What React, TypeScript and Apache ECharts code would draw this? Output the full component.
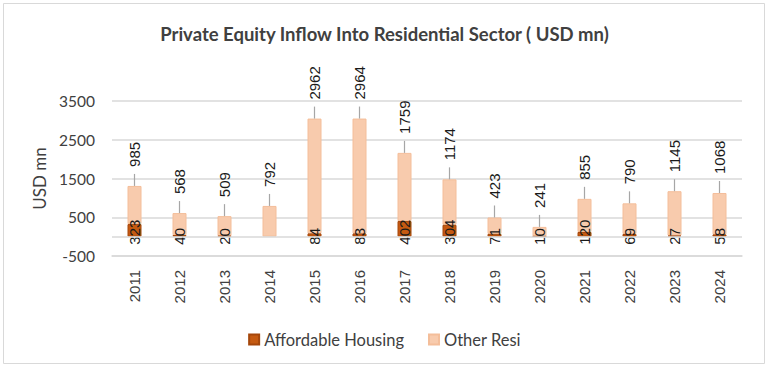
import React, { useEffect, useRef } from "react";
import * as echarts from "echarts";

const years = ["2011","2012","2013","2014","2015","2016","2017","2018","2019","2020","2021","2022","2023","2024"];
const affordable = [323, 40, 20, null, 84, 83, 402, 304, 71, 10, 120, 69, 27, 58];
const otherResi = [985, 568, 509, 792, 2962, 2964, 1759, 1174, 423, 241, 855, 790, 1145, 1068];
const yTicks = { min: -500, max: 3500, interval: 1000 };

const FONT = "Lato";

export default function App() {
  const ref = useRef<HTMLDivElement>(null);
  useEffect(() => {
    document.body.style.margin = "0";
    const chart = echarts.init(ref.current!, null, { renderer: "svg" });
    const totals = years.map((_, i) => (affordable[i] ?? 0) + otherResi[i]);
    chart.setOption({
      animation: false,
      backgroundColor: "#ffffff",
      title: {
        text: "Private Equity Inflow Into Residential Sector ( USD mn)",
        left: "center",
        top: 19,
        textStyle: { fontFamily: FONT, fontSize: 18.5, fontWeight: "bold", color: "#404040" },
      },
      graphic: [
        { type: "rect", shape: { x: 3.5, y: 3.5, width: 761, height: 360 }, style: { fill: "none", stroke: "#d9d9d9", lineWidth: 1 }, silent: true },
      ],
      legend: {
        data: ["Affordable Housing", "Other Resi"],
        left: "center",
        top: 326,
        itemWidth: 10,
        itemHeight: 10,
        itemGap: 24,
        icon: "rect",
        textStyle: { fontFamily: FONT, fontSize: 16.5, color: "#404040" },
      },
      grid: { left: 112, right: 27, top: 101, bottom: 111 },
      xAxis: {
        type: "category",
        data: years,
        axisLine: { onZero: false, lineStyle: { color: "#d9d9d9", width: 1.5 } },
        axisTick: { show: false },
        axisLabel: { rotate: 90, margin: 14, fontFamily: "Liberation Sans", fontSize: 15, color: "#404040" },
      },
      yAxis: {
        type: "value",
        min: yTicks.min,
        max: yTicks.max,
        interval: yTicks.interval,
        name: "USD mn",
        nameLocation: "middle",
        nameRotate: 90,
        nameGap: 64,
        nameTextStyle: { fontFamily: FONT, fontSize: 17, color: "#404040" },
        axisLine: { show: false },
        axisTick: { show: false },
        axisLabel: { margin: 17, fontFamily: FONT, fontSize: 15.5, color: "#404040", formatter: (v: number) => String(v) },
        splitLine: { lineStyle: { color: "#d9d9d9", width: 1.5 } },
      },
      series: [
        {
          name: "Affordable Housing",
          type: "bar",
          stack: "total",
          barWidth: 14,
          data: affordable,
          itemStyle: { color: "#C55A11", borderColor: "#A5470B", borderWidth: 1 },
          label: {
            show: true,
            position: "insideBottom",
            distance: -8,
            rotate: 90,
            align: "left",
            verticalAlign: "middle",
            fontFamily: "Liberation Sans",
            fontSize: 15,
            color: "#1a1a1a",
          },
          markLine: {
            silent: true,
            symbol: "none",
            label: { show: false },
            lineStyle: { color: "#d9d9d9", width: 1.5, type: "solid" },
            data: [{ yAxis: 0 }],
          },
          z: 3,
        },
        {
          name: "Other Resi",
          type: "bar",
          stack: "total",
          barWidth: 14,
          data: otherResi,
          itemStyle: { color: "#F8CBAD", borderColor: "#F4BE9A", borderWidth: 1 },
          label: {
            show: true,
            position: "top",
            distance: 19,
            rotate: 90,
            align: "left",
            verticalAlign: "middle",
            fontFamily: "Liberation Sans",
            fontSize: 15,
            color: "#1a1a1a",
          },
          z: 2,
        },
        {
          type: "custom",
          name: "leader",
          silent: true,
          data: totals.map((t, i) => [i, t]),
          renderItem: (params: any, api: any) => {
            const p = api.coord([api.value(0), api.value(1)]);
            return {
              type: "line",
              shape: { x1: p[0], y1: p[1], x2: p[0], y2: p[1] - 12 },
              style: { stroke: "#a6a6a6", lineWidth: 1.2 },
            };
          },
          z: 4,
        },
      ],
    });
    return () => chart.dispose();
  }, []);
  return <div ref={ref} style={{ position: "absolute", left: 0, top: 0, width: 769, height: 367 }} />;
}
